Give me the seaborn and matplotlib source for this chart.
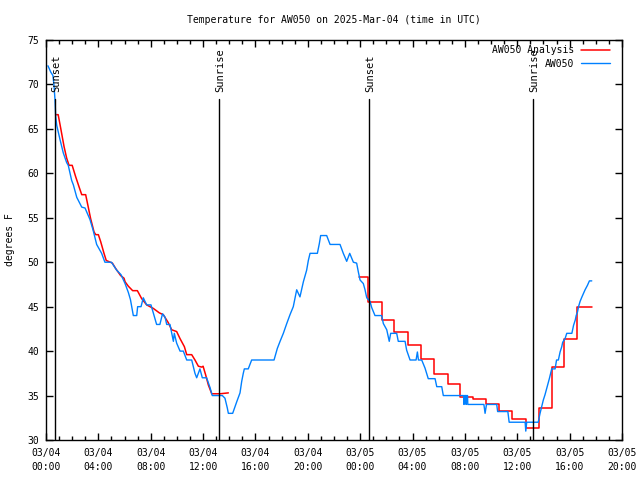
import numpy as np
import pandas as pd
import matplotlib
matplotlib.use("Agg")
import matplotlib.pyplot as plt
import seaborn as sns

# ---------------- data (hours since 2025-03-04 00:00 UTC, deg F) ----------------
obs_hours = [0.15, 0.36, 0.53, 0.61, 0.69, 0.74, 0.82, 1.07, 1.32, 1.58, 1.70, 1.96, 2.09, 2.35,
             2.73, 2.98, 3.36, 3.60, 3.87, 4.25, 4.50, 5.00, 5.40, 5.73, 6.04, 6.29, 6.45, 6.67,
             6.93, 7.00, 7.26, 7.43, 7.69, 8.02, 8.45, 8.70, 8.90, 9.10, 9.22, 9.47, 9.73, 9.80,
             9.98, 10.24, 10.49, 10.75, 11.13, 11.38, 11.51, 11.76, 11.94, 12.27, 12.53, 12.70,
             13.04, 13.47, 13.67, 13.85, 13.93, 14.26, 14.57, 14.82, 14.95, 15.07, 15.15, 15.45,
             15.71, 17.42, 17.67, 17.88, 18.13, 18.39, 18.64, 18.89, 19.15, 19.40, 19.66, 19.91,
             20.04, 20.17, 20.73, 20.88, 20.98, 21.44, 21.70, 22.46, 22.71, 22.97, 23.20, 23.48,
             23.73, 23.86, 23.99, 24.24, 24.37, 24.50, 24.75, 24.88, 25.13, 25.64, 25.77, 26.03,
             26.22, 26.33, 26.79, 26.91, 27.43, 27.55, 27.81, 28.27, 28.37, 28.45, 28.70, 28.95,
             29.20, 29.72, 29.85, 30.23, 30.35, 31.63, 31.90, 31.93, 31.97, 32.07, 32.09, 32.13,
             32.20, 32.22, 33.45, 33.54, 33.65, 34.43, 34.50, 35.28, 35.38, 36.60, 36.65, 36.72,
             37.60, 37.74, 37.87, 37.99, 38.12, 38.25, 38.45, 38.63, 38.89, 39.00, 39.14, 39.27,
             39.40, 39.47, 39.65, 39.78, 40.17, 40.30, 40.43, 40.50, 40.60, 40.68, 40.80, 40.94,
             41.18, 41.36, 41.51, 41.69]
obs_temp = [72.1, 71.4, 71.0, 69.9, 68.2, 66.4, 65.4, 63.8, 62.3, 61.2, 60.9, 59.2, 58.7, 57.3,
            56.2, 56.1, 54.8, 53.6, 52.0, 51.0, 50.0, 50.0, 49.1, 48.6, 47.6, 46.6, 45.8, 44.0,
            44.0, 45.0, 45.0, 46.0, 45.2, 45.2, 43.0, 43.0, 44.2, 43.8, 43.0, 43.0, 41.1, 42.0,
            40.9, 40.0, 40.0, 39.0, 39.0, 37.5, 37.0, 38.0, 37.0, 37.0, 35.9, 35.0,
            35.0, 35.0, 34.7, 33.6, 33.0, 33.0, 34.3, 35.3, 36.6, 37.5, 38.0, 38.0,
            39.0, 39.0, 40.3, 41.1, 42.0, 43.1, 44.1, 45.0, 46.9, 46.1, 47.8, 49.1,
            50.2, 51.0, 51.0, 52.1, 53.0, 53.0, 52.0, 52.0, 51.0, 50.1, 51.0, 50.0,
            49.9, 48.9, 48.0, 47.6, 46.9, 46.0, 45.6, 44.9, 44.0, 44.0, 43.1, 42.4,
            41.1, 42.0, 42.0, 41.1, 41.1, 40.1, 39.0, 39.0, 39.9, 39.0, 39.0, 38.1,
            36.9, 36.9, 36.0, 36.0, 35.0, 35.0, 35.0, 34.0, 35.0, 35.0, 34.0, 35.0,
            35.0, 34.0, 34.0, 33.0, 34.0, 34.0, 33.2, 33.2, 32.0, 32.0, 31.0, 32.0,
            32.0, 33.0, 33.8, 34.5, 35.1, 35.8, 36.9, 38.0, 38.0, 39.0, 39.0, 39.9,
            40.5, 41.0, 41.4, 42.0, 42.0, 42.9, 43.5, 44.0, 44.4, 45.0, 45.6, 46.1,
            46.9, 47.4, 47.9, 47.9]

# analysis, first evening/night segment
ana1_hours = [0.74, 0.93, 1.12, 1.38, 1.58, 1.76, 2.00, 2.27, 2.52, 2.73, 3.03, 3.20, 3.41, 3.67,
              3.80, 4.00, 4.18, 4.43, 4.60, 5.07, 5.32, 5.70, 5.96, 6.04, 6.29, 6.62, 6.98, 7.31,
              7.69, 8.20, 8.66, 8.96, 9.34, 9.60, 9.98, 10.24, 10.57, 10.75, 11.13, 11.38, 11.64,
              11.90, 12.00, 12.20, 12.40, 12.66, 13.30, 13.93]
ana1_temp = [66.6, 66.6, 65.1, 63.0, 61.7, 60.9, 60.9, 59.6, 58.5, 57.6, 57.6, 56.4, 54.9, 53.4,
             53.1, 53.1, 52.3, 51.0, 50.2, 49.9, 49.3, 48.5, 48.2, 47.8, 47.3, 46.8, 46.8, 45.9,
             45.2, 44.8, 44.3, 44.1, 43.2, 42.4, 42.2, 41.4, 40.5, 39.6, 39.6, 39.0, 38.3,
             38.2, 38.3, 37.3, 36.2, 35.2, 35.2, 35.3]
# analysis, second segment (stepped values)
ana2_hours = [23.93, 24.62, 25.64, 26.60, 27.63, 28.62, 29.66, 30.69, 31.63, 32.60, 33.60, 34.60,
              35.60, 36.65, 37.66, 38.63, 39.55, 40.60, 41.70]
ana2_temp = [48.3, 45.5, 43.5, 42.2, 40.7, 39.1, 37.4, 36.3, 34.8, 34.6, 34.05, 33.3,
             32.4, 31.4, 33.56, 38.2, 41.4, 45.0, 45.0]

sun_hours = [0.70, 13.22, 24.68, 37.20]
sun_labels = ["Sunset", "Sunrise", "Sunset", "Sunrise"]

xtick_hours = [0, 4, 8, 12, 16, 20, 24, 28, 32, 36, 40, 44]
xtick_labels = ["03/04\n00:00", "03/04\n04:00", "03/04\n08:00", "03/04\n12:00", "03/04\n16:00",
                "03/04\n20:00", "03/05\n00:00", "03/05\n04:00", "03/05\n08:00", "03/05\n12:00",
                "03/05\n16:00", "03/05\n20:00"]
ytick_values = [30, 35, 40, 45, 50, 55, 60, 65, 70, 75]

title = "Temperature for AW050 on 2025-Mar-04 (time in UTC)"
ylabel = "degrees F"

# ---------------- plot ----------------
sns.set_theme(style="white")
plt.rcParams["font.family"] = ["DejaVu Sans Mono", "DejaVu Sans"]
plt.rcParams["text.color"] = "black"

fig = plt.figure(figsize=(6.4, 4.8), dpi=100)
ax = fig.add_axes([46 / 640, 40 / 480, 576 / 640, 400 / 480])

red = "#ff0000"
blue = "#0080ff"

d1 = pd.DataFrame({"h": ana1_hours, "t": ana1_temp})
d2 = pd.DataFrame({"h": ana2_hours, "t": ana2_temp})
d3 = pd.DataFrame({"h": obs_hours, "t": obs_temp})

sns.lineplot(data=d1, x="h", y="t", ax=ax, color=red, lw=1.1, estimator=None, sort=False,
             label="AW050 Analysis")
sns.lineplot(data=d2, x="h", y="t", ax=ax, color=red, lw=1.1, estimator=None, sort=False,
             drawstyle="steps-post", label="_nolegend_")
sns.lineplot(data=d3, x="h", y="t", ax=ax, color=blue, lw=1.0, estimator=None, sort=False,
             label="AW050")

label_base = 69.2
for h, lab in zip(sun_hours, sun_labels):
    ax.axvline(h, ymin=0, ymax=(68.4 - 30) / 45, color="black", lw=1.0)
    ax.text(h + 0.08, label_base, lab, rotation=90, ha="center", va="bottom", fontsize=7.5,
            color="black")

ax.set_xlim(0, 44)
ax.set_ylim(30, 75)
ax.set_xticks(xtick_hours)
ax.set_xticklabels(xtick_labels, fontsize=7, linespacing=1.45)
ax.set_xticks(range(0, 45), minor=True)
ax.set_yticks(ytick_values)
ax.set_yticklabels([str(v) for v in ytick_values], fontsize=7)
ax.tick_params(axis="both", which="major", direction="in", length=5, width=1, colors="black",
               top=True, right=True, bottom=True, left=True)
ax.tick_params(axis="x", which="major", pad=6)
ax.tick_params(axis="y", which="major", pad=5)
ax.tick_params(axis="x", which="minor", direction="in", length=3, width=1, colors="black",
               top=True, bottom=True)
for s in ax.spines.values():
    s.set_color("black")
    s.set_linewidth(1.0)
ax.set_xlabel("")
ax.set_ylabel("")

leg = ax.legend(loc="upper right", bbox_to_anchor=(0.979, 0.987), frameon=False,
                markerfirst=False, fontsize=7, handlelength=3.0, handletextpad=0.7,
                labelspacing=0.38, borderpad=0, borderaxespad=0)

fig.text(334 / 640, 1 - 20 / 480, title, ha="center", va="center", fontsize=7)
fig.text(10 / 640, 0.5, ylabel, rotation=90, ha="center", va="center", fontsize=7)

fig.savefig("out.png", dpi=100)
